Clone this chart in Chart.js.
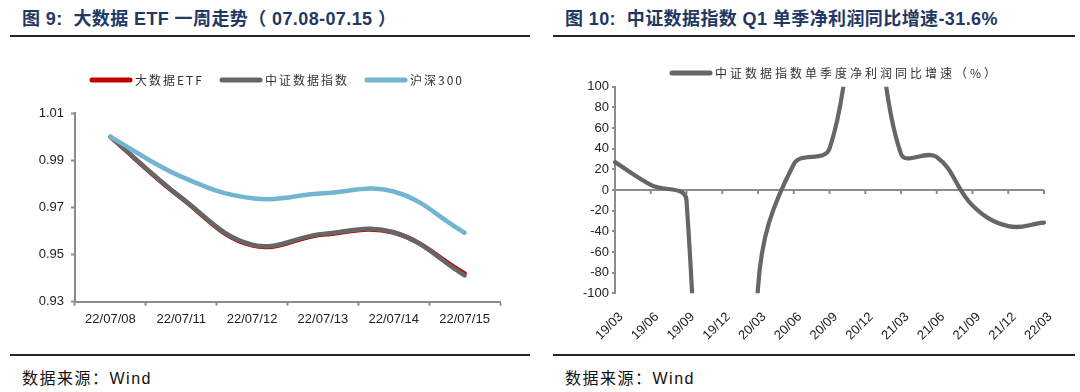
<!DOCTYPE html>
<html>
<head>
<meta charset="utf-8">
<script src="https://cdn.jsdelivr.net/npm/chart.js@4.4.1/dist/chart.umd.min.js"></script>
<style>
    body { margin: 0; width: 1080px; height: 392px; background: #fff; position: relative; overflow: hidden;
           font-family: "Liberation Sans", "Noto Sans CJK SC", sans-serif; }
    .title { position: absolute; top: 4px; font-size: 18px; font-weight: bold; color: #1f3864; white-space: pre; letter-spacing: 0.4px; }
    .rule { position: absolute; height: 2px; background: #262626; }
    .source { position: absolute; top: 365px; font-size: 16px; color: #111; white-space: pre; letter-spacing: 1.5px; }
    .box { position: absolute; }
</style>
</head>
<body>
<div class="title" style="left:22px">图 9:  大数据 ETF 一周走势（ 07.08-07.15 ）</div>
<div class="rule" style="left:10px;top:35px;width:520px"></div>
<div class="title" style="left:565px">图 10:  中证数据指数 Q1 单季净利润同比增速-31.6%</div>
<div class="rule" style="left:553px;top:35px;width:522px"></div>

<div class="box" style="left:20px;top:60px"><canvas id="etf-chart" width="510" height="285"></canvas></div>
<div class="box" style="left:540px;top:60px"><canvas id="profit-chart" width="540" height="290"></canvas></div>

<div class="rule" style="left:10px;top:354px;width:520px"></div>
<div class="rule" style="left:553px;top:354px;width:522px"></div>
<div class="source" style="left:22px">数据来源：Wind</div>
<div class="source" style="left:565px">数据来源：Wind</div>

<script>
// left chart: one week, normalised to 1 on 07/08
const weekDays = ["22/07/08", "22/07/11", "22/07/12", "22/07/13", "22/07/14", "22/07/15"];
const bigDataEtf = [1.0, 0.9740, 0.9539, 0.9585, 0.9593, 0.9420];
const csiBigData = [1.0, 0.9742, 0.9542, 0.9588, 0.9595, 0.9412];
const hs300 = [1.0, 0.9831, 0.9739, 0.9760, 0.9768, 0.9593];
const weekTicks = [0.93, 0.95, 0.97, 0.99, 1.01];

// right chart: quarterly net profit growth (%)
const quarters = ["19/03", "19/06", "19/09", "19/12", "20/03", "20/06", "20/09",
                  "20/12", "21/03", "21/06", "21/09", "21/12", "22/03"];
const profitGrowth = [27, 5, -10, -1000, -95, 25, 40, 230, 35, 32, -15, -35, -31.6];
const growthTicks = [-100, -80, -60, -40, -20, 0, 20, 40, 60, 80, 100];

const AXIS = "#8c8c8c";
const TICK_FONT = { family: "Liberation Sans", size: 13 };

// legend drawn as thick line segments, like the original
const lineLegend = {
    id: "lineLegend",
    afterDraw(chart, args, opts) {
        const ctx = chart.ctx;
        ctx.save();
        ctx.font = opts.font;
        ctx.textBaseline = "middle";
        chart.data.datasets.forEach((ds, i) => {
            const x = opts.xs[i];
            ctx.strokeStyle = ds.borderColor;
            ctx.lineWidth = 5;
            ctx.lineCap = "round";
            ctx.beginPath();
            ctx.moveTo(x + 2, opts.y);
            ctx.lineTo(x + opts.len - 2, opts.y);
            ctx.stroke();
            ctx.fillStyle = "#333";
            ctx.letterSpacing = opts.spacing;
            ctx.fillText(ds.label, x + opts.len + 3, opts.y);
        });
        ctx.restore();
    },
};

// small tick marks hanging under the zero line
const zeroTicks = {
    id: "zeroTicks",
    beforeDatasetsDraw(chart) {
        const { ctx, scales: { x, y } } = chart;
        const y0 = y.getPixelForValue(0);
        ctx.save();
        ctx.strokeStyle = AXIS;
        ctx.lineWidth = 2;
        for (let i = 1; i < quarters.length; i++) {
            const px = x.getPixelForValue(i);
            ctx.beginPath();
            ctx.moveTo(px, y0);
            ctx.lineTo(px, y0 + 4);
            ctx.stroke();
        }
        ctx.restore();
    },
};

function lineSet(label, data, color, order) {
    return {
        label, data, order,
        borderColor: color,
        backgroundColor: color,
        borderWidth: 4.5,
        pointRadius: 0,
        tension: 0.4,
        borderCapStyle: "round",
        fill: false,
    };
}

new Chart(document.getElementById("etf-chart"), {
    type: "line",
    data: {
        labels: weekDays,
        datasets: [
            lineSet("大数据ETF", bigDataEtf, "#c00000", 2),
            lineSet("中证数据指数", csiBigData, "#666666", 1),
            lineSet("沪深300", hs300, "#72b5d0", 0),
        ],
    },
    options: {
        responsive: false,
        animation: false,
        layout: { padding: { top: 53.3, right: 30, left: 0, bottom: 0 } },
        plugins: {
            legend: { display: false },
            tooltip: { enabled: false },
            lineLegend: { xs: [70, 200, 345], y: 20, len: 42, font: "12px 'Noto Sans CJK SC'", spacing: "2px" },
        },
        scales: {
            x: {
                offset: true,
                grid: { display: true, drawOnChartArea: false, offset: true, tickLength: 4, tickColor: AXIS, tickWidth: 2 },
                border: { display: true, color: AXIS, width: 2 },
                ticks: { color: "#222", font: TICK_FONT, padding: 6, maxRotation: 0 },
                afterFit: s => { s.height = 43.3; },
            },
            y: {
                min: 0.93, max: 1.01,
                afterBuildTicks: s => { s.ticks = weekTicks.map(v => ({ value: v })); },
                grid: { drawOnChartArea: false, tickLength: 4, tickColor: AXIS, tickWidth: 2 },
                border: { display: true, color: AXIS, width: 2 },
                ticks: { color: "#222", font: TICK_FONT, padding: 7, callback: v => v.toFixed(2) },
                afterFit: s => { s.width = 55; },
            },
        },
    },
    plugins: [lineLegend],
});

new Chart(document.getElementById("profit-chart"), {
    type: "line",
    data: {
        labels: quarters,
        datasets: [{
            ...lineSet("中证数据指数单季度净利润同比增速（%）", profitGrowth, "#666666", 0),
            borderWidth: 4.2,
            clip: { left: 5, right: 5, top: 0, bottom: 0 },
        }],
    },
    options: {
        responsive: false,
        animation: false,
        layout: { padding: { top: 26.7, right: 36, left: 0, bottom: 0 } },
        plugins: {
            legend: { display: false },
            tooltip: { enabled: false },
            lineLegend: { xs: [130], y: 13, len: 42, font: "12px 'Noto Sans CJK SC'", spacing: "3px" },
        },
        scales: {
            x: {
                grid: { display: false },
                border: { display: false },
                ticks: { color: "#222", font: TICK_FONT, padding: 8, labelOffset: 6,
                         minRotation: 45, maxRotation: 45, autoSkip: false },
                afterFit: s => { s.height = 56.7; },
            },
            y: {
                min: -100, max: 100,
                afterBuildTicks: s => { s.ticks = growthTicks.map(v => ({ value: v })); },
                grid: {
                    color: c => c.tick && c.tick.value === 0 ? AXIS : "transparent",
                    lineWidth: 2,
                    tickLength: 3,
                    tickColor: AXIS,
                    tickWidth: 2,
                },
                border: { display: true, color: AXIS, width: 2 },
                ticks: { color: "#222", font: TICK_FONT, padding: 3 },
                afterFit: s => { s.width = 75; },
            },
        },
    },
    plugins: [lineLegend, zeroTicks],
});
</script>
</body>
</html>
